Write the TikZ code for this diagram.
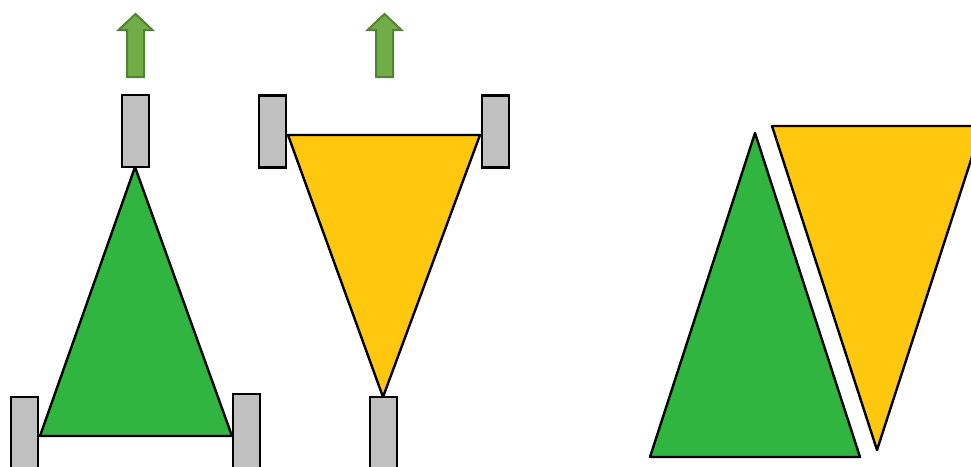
\documentclass[tikz,border=0pt]{standalone}
\usepackage{tikz}
\usetikzlibrary{positioning,calc}

\definecolor{gbody}{RGB}{47,181,64}
\definecolor{ybody}{RGB}{255,200,14}
\definecolor{wheelgray}{RGB}{192,192,192}
\definecolor{arrowfill}{RGB}{112,173,71}
\definecolor{arrowedge}{RGB}{84,130,53}

\begin{document}
\begin{tikzpicture}[
    x=1pt, y=-1pt,
    wheel/.style={rectangle, draw, fill=wheelgray, line width=2.4pt, minimum width=27pt, minimum height=72pt, inner sep=0pt},
    lowwheel/.style={wheel, minimum height=80pt},
    body/.style={draw, line width=2.4pt, line join=round},
    fwd/.style={fill=arrowfill, draw=arrowedge, line width=2pt}
]
\useasboundingbox (0,0) rectangle (971,466);
\clip (0,0) rectangle (971,466);

% Forward arrows
\foreach \cx in {135.5,384.5}
  \draw[fwd] (\cx-8.5,77) -- (\cx-8.5,30) -- (\cx-17,30) -- (\cx,14)
    -- (\cx+17,30) -- (\cx+8.5,30) -- (\cx+8.5,77) -- cycle;

% Green robot
\coordinate (gtip) at (135,167);
\coordinate (gleft) at (40,436);
\coordinate (gright) at (232,436);
\draw[body, fill=gbody] (gtip) -- (gright) -- (gleft) -- cycle;
\node[wheel] (gfront) at (135.5,131) {};
\node[lowwheel] (gwl) at (24.5,437) {};
\node[lowwheel] (gwr) at (246.5,434) {};

% Yellow robot
\coordinate (yleft) at (288,135);
\coordinate (yright) at (480,135);
\coordinate (ytip) at (383,397);
\draw[body, fill=ybody] (yleft) -- (yright) -- (ytip) -- cycle;
\node[wheel] (ywl) at (272.5,131.5) {};
\node[wheel] (ywr) at (495.5,131.5) {};
\node[lowwheel] (yback) at (383.5,437) {};

% Both bodies together
\coordinate (g2tip) at (755,133);
\coordinate (g2left) at (650,457);
\coordinate (g2right) at (860,457);
\draw[body, fill=gbody] (g2tip) -- (g2right) -- (g2left) -- cycle;
\coordinate (y2left) at (772,126);
\coordinate (y2right) at (982,126);
\coordinate (y2tip) at (877,450);
\draw[body, fill=ybody] (y2left) -- (y2right) -- (y2tip) -- cycle;

\end{tikzpicture}
\end{document}
